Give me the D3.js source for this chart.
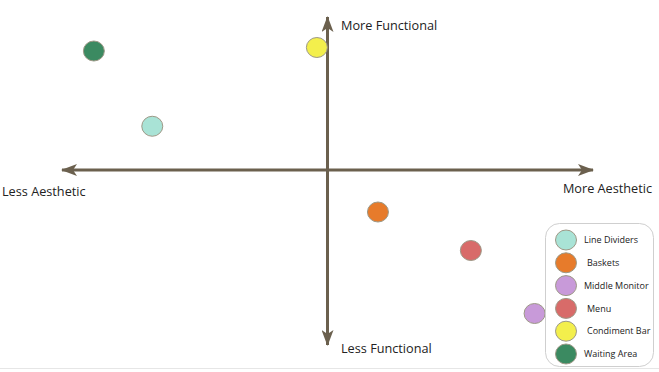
<!DOCTYPE html>
<style>
body { margin: 0; background: #fff; }
text { font-family: "Open Sans", sans-serif; fill: #222; }
</style>
<svg width="659" height="372"></svg>
<script src="https://d3js.org/d3.v7.min.js"></script>
<script>

// items placed on the aesthetic / functional grid (-10 .. 10 each way)
var items = ["Line Dividers", "Baskets", "Middle Monitor", "Menu", "Condiment Bar", "Waiting Area"];
var aesthetic = [-6.6, 1.9, 7.8, 5.4, -0.4, -8.8];
var functional = [2.5, -2.4, -8.2, -4.6, 7.0, 6.8];
var colors = ["#a9e3d6", "#e77b2b", "#c89ad9", "#d86b69", "#f3ef4c", "#3b8a61"];

var svg = d3.select("svg");

// x: 62..593 is the arrow span, y centre sits at 170
var x = d3.scaleLinear().domain([-10, 10]).range([62, 593]);
var y = d3.scaleLinear().domain([-10, 10]).range([345, -5]);

var axisColor = "#6b604e";

// arrowhead with a notch at the back
svg.append("defs").append("marker")
    .attr("id", "arrow")
    .attr("viewBox", "0 0 16 12")
    .attr("refX", 15)
    .attr("refY", 6)
    .attr("markerWidth", 16)
    .attr("markerHeight", 12)
    .attr("markerUnits", "userSpaceOnUse")
    .attr("orient", "auto-start-reverse")
  .append("path")
    .attr("d", "M0,0 L16,6 L0,12 L4,6 Z")
    .attr("fill", axisColor);

// horizontal axis
svg.append("line")
    .attr("x1", x(-10)).attr("x2", x(10))
    .attr("y1", y(0)).attr("y2", y(0))
    .attr("stroke", axisColor)
    .attr("stroke-width", 3)
    .attr("marker-start", "url(#arrow)")
    .attr("marker-end", "url(#arrow)");

// vertical axis
svg.append("line")
    .attr("x1", x(0)).attr("x2", x(0))
    .attr("y1", 17).attr("y2", 345)
    .attr("stroke", axisColor)
    .attr("stroke-width", 3)
    .attr("marker-start", "url(#arrow)")
    .attr("marker-end", "url(#arrow)");

// axis end labels
var labels = [
  {t: "More Functional", x: 341, y: 30, a: "start"},
  {t: "Less Functional", x: 341, y: 353, a: "start"},
  {t: "Less Aesthetic", x: 2, y: 196, a: "start"},
  {t: "More Aesthetic", x: 652, y: 193, a: "end"}
];
svg.selectAll(".axlab")
    .data(labels)
  .enter().append("text")
    .attr("class", "axlab")
    .attr("x", function(d) { return d.x; })
    .attr("y", function(d) { return d.y; })
    .attr("text-anchor", function(d) { return d.a; })
    .attr("font-size", 12.7)
    .text(function(d) { return d.t; });

// the points
svg.selectAll(".pt")
    .data(items)
  .enter().append("ellipse")
    .attr("class", "pt")
    .attr("cx", function(d, i) { return x(aesthetic[i]); })
    .attr("cy", function(d, i) { return y(functional[i]); })
    .attr("rx", 10.5)
    .attr("ry", 10)
    .attr("fill", function(d, i) { return colors[i]; })
    .attr("stroke", "#9c9886")
    .attr("stroke-width", 1);

// legend box
svg.append("rect")
    .attr("x", 545.5)
    .attr("y", 223.5)
    .attr("width", 108)
    .attr("height", 143)
    .attr("rx", 14)
    .attr("fill", "#fff")
    .attr("stroke", "#cfcfcf");

var legend = svg.selectAll(".leg")
    .data(items)
  .enter().append("g")
    .attr("class", "leg")
    .attr("transform", function(d, i) { return "translate(566," + (240 + i * 22.8) + ")"; });

legend.append("ellipse")
    .attr("rx", 10.5)
    .attr("ry", 10)
    .attr("fill", function(d, i) { return colors[i]; })
    .attr("stroke", "#9c9886");

legend.append("text")
    .attr("x", function(d) { return (d == "Baskets" || d == "Menu" || d == "Condiment Bar") ? 21 : 18; })
    .attr("dy", "0.35em")
    .attr("font-size", 9)
    .text(function(d) { return d; });

// faint rule along the bottom edge
svg.append("line")
    .attr("x1", 0).attr("x2", 659)
    .attr("y1", 368.5).attr("y2", 368.5)
    .attr("stroke", "#e6e6e6");

</script>
